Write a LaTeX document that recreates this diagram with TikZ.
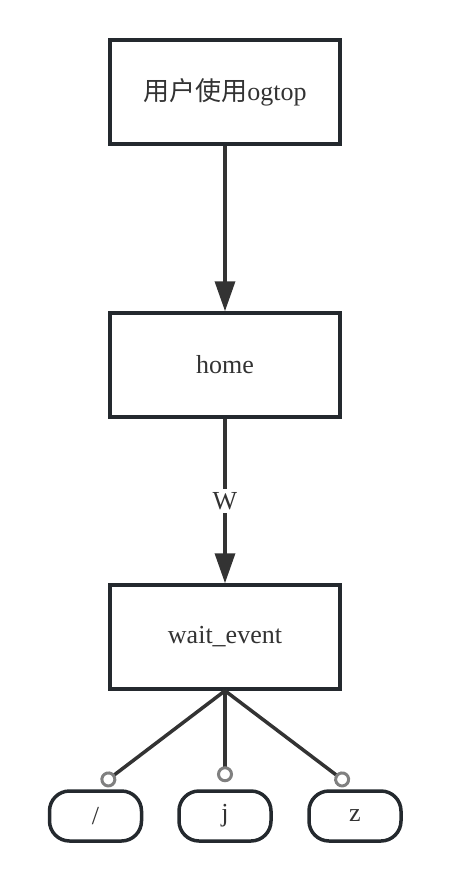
\documentclass[tikz,border=0pt]{standalone}
\usepackage{fontspec}
\setmainfont{Liberation Serif}
\newfontfamily\cjk{Noto Sans CJK SC}
\usetikzlibrary{arrows.meta}
\definecolor{edge}{HTML}{333333}
\definecolor{rim}{HTML}{24292E}
\begin{document}
\begin{tikzpicture}[x=1pt, y=-1pt, every node/.style={text=edge, font=\fontsize{26}{30}\selectfont},
    stage/.style={draw=rim, line width=3.5pt, minimum width=230pt, minimum height=104pt},
    keybox/.style={draw=rim, line width=3.5pt, rounded corners=20pt, minimum width=92pt, minimum height=50pt},
    flow/.style={draw=edge, line width=3.5pt, -{Triangle[width=20pt,length=30pt]}},
    pick/.style={draw=edge, line width=3.5pt, -{Circle[open,length=16pt,width=16pt,line width=3pt,color=gray]}}]
  \useasboundingbox (0,0) rectangle (455,871);
  \node[stage] (user) at (225,92) {{\cjk 用户使用}ogtop};
  \node[stage] (home) at (225,365) {home};
  \node[stage] (wait) at (225,637) {wait\_event};
  \node[keybox] (slash) at (95.5,816) {/};
  \node[keybox] (j) at (225,816) {j};
  \node[keybox] (z) at (355,816) {z};
  \draw[flow] (user) -- (home);
  \draw[flow] (home) -- node[fill=white, inner sep=3pt] (w) {W} (wait);
  \draw[pick] (wait.south) -- ([xshift=6.5pt,yshift=5pt]slash.north);
  \draw[pick] (wait.south) -- ([yshift=7pt]j.north);
  \draw[pick] (wait.south) -- ([xshift=-6.5pt,yshift=5pt]z.north);
\end{tikzpicture}
\end{document}
